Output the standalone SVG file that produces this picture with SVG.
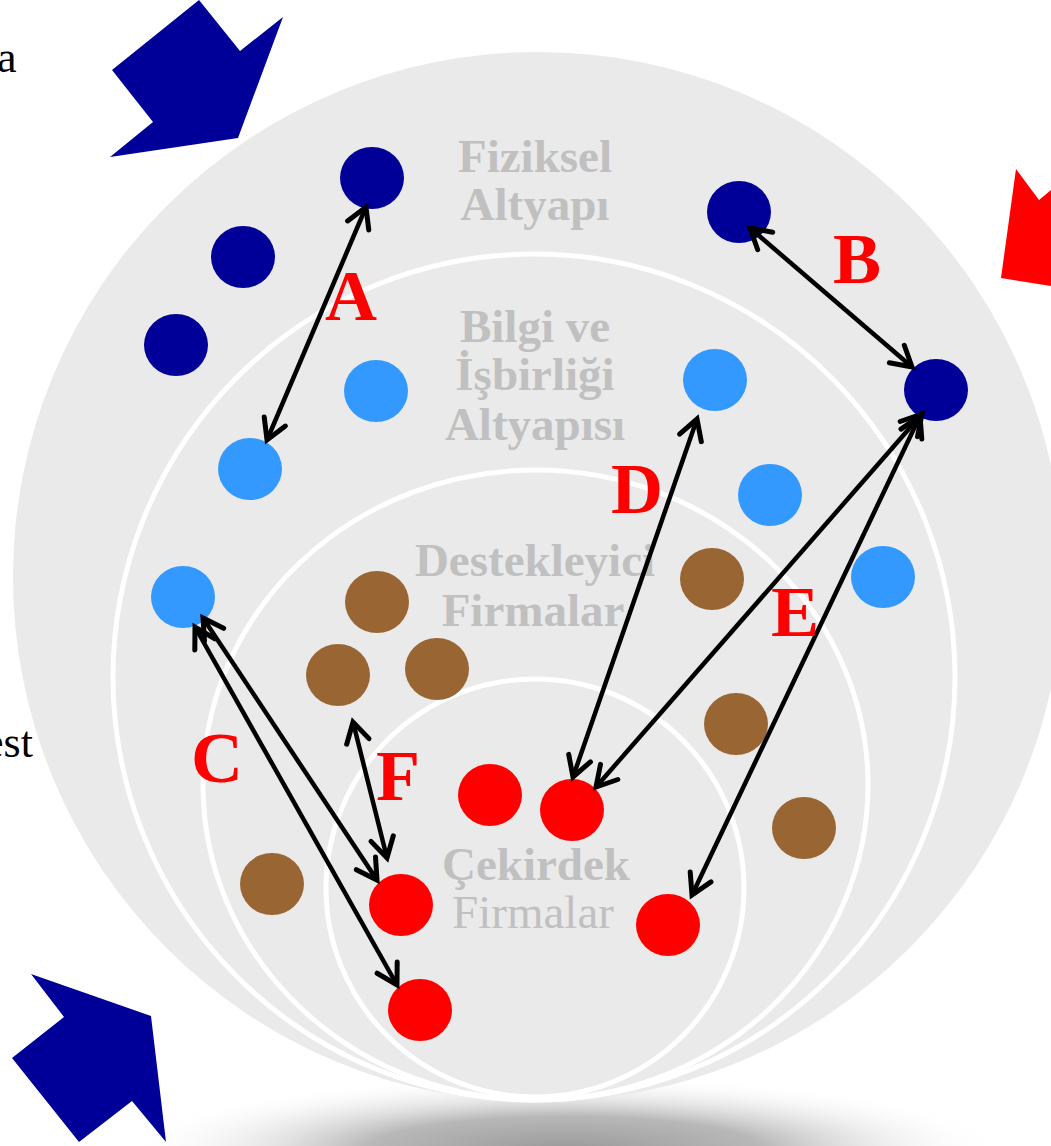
<svg xmlns="http://www.w3.org/2000/svg" width="1051" height="1146" viewBox="0 0 1051 1146">
<style>
.ring{fill:none;stroke:#fff;stroke-width:5}
.lbl{font-family:"Liberation Serif","Times New Roman",serif;font-size:47px;fill:#c0c0c0;text-anchor:middle}
.b{font-weight:bold}
.let{font-family:"Liberation Serif","Times New Roman",serif;font-size:72px;font-weight:bold;fill:#ff0000;text-anchor:middle}
.side{font-family:"Liberation Serif","Times New Roman",serif;font-size:44px;fill:#000}
.conn line{stroke:#000;stroke-width:4.5;marker-start:url(#ah);marker-end:url(#ah)}
.dk{fill:#000099}.lt{fill:#3399ff}.br{fill:#996633}.rd{fill:#ff0000}
</style>
<defs>
<radialGradient id="sh" cx="0.5" cy="0.5" r="0.5">
<stop offset="0" stop-color="#9a9a9a"/>
<stop offset="0.45" stop-color="#b8b8b8"/>
<stop offset="1" stop-color="#ffffff" stop-opacity="0"/>
</radialGradient>
<marker id="ah" viewBox="-24 -15 30 30" refX="0" refY="0" markerWidth="30" markerHeight="30" markerUnits="userSpaceOnUse" orient="auto-start-reverse">
<path d="M-20,-11.5 L0,0 L-20,11.5" fill="none" stroke="#000" stroke-width="5" stroke-linecap="round"/>
</marker>
</defs>
<rect width="1051" height="1146" fill="#fff"/>
<ellipse cx="565" cy="1150" rx="440" ry="75" fill="url(#sh)"/>
<g id="rings">
<circle cx="538" cy="577" r="525" fill="#eaeaea"/>
<ellipse class="ring" cx="534" cy="677" rx="421" ry="423"/>
<ellipse class="ring" cx="535.5" cy="785" rx="332.5" ry="315"/>
<ellipse class="ring" cx="535" cy="888" rx="209" ry="209"/>
</g>
<g id="ring-labels">
<text class="lbl b" x="535" y="172">Fiziksel</text>
<text class="lbl b" x="535" y="220">Altyapı</text>
<text class="lbl b" x="535" y="342">Bilgi ve</text>
<text class="lbl b" x="535" y="390">İşbirliği</text>
<text class="lbl b" x="535" y="440">Altyapısı</text>
<text class="lbl b" x="535" y="576">Destekleyici</text>
<text class="lbl b" x="533" y="626">Firmalar</text>
<text class="lbl b" x="536" y="880">Çekirdek</text>
<text class="lbl" x="533" y="928">Firmalar</text>
</g>
<g id="side-text">
<text class="side" x="-3" y="72">a</text>
<text class="side" x="-16" y="757">est</text>
</g>
<g id="big-arrows">
<polygon fill="#000099" points="199,0 240,51 283,17 238,138 110,157 153,122 112,70"/>
<polygon fill="#ff0000" points="1016,169 1039,200 1051,190 1051,286 1001,278"/>
<polygon fill="#000099" points="31,974 151,1016 166,1142 132,1101 79,1142 12,1058 64,1017"/>
</g>
<g id="nodes">
<ellipse id="n1" class="dk" cx="372" cy="178" rx="32" ry="31"/>
<ellipse id="n2" class="dk" cx="243" cy="257" rx="32" ry="31"/>
<ellipse id="n3" class="dk" cx="176" cy="345" rx="32" ry="31"/>
<ellipse id="n4" class="dk" cx="739" cy="212" rx="32" ry="31"/>
<ellipse id="n5" class="dk" cx="936" cy="390" rx="32" ry="31"/>
<ellipse id="n6" class="lt" cx="376" cy="391" rx="32" ry="31"/>
<ellipse id="n7" class="lt" cx="250" cy="469" rx="32" ry="31"/>
<ellipse id="n8" class="lt" cx="715" cy="380" rx="32" ry="31"/>
<ellipse id="n9" class="lt" cx="770" cy="495" rx="32" ry="31"/>
<ellipse id="n10" class="lt" cx="883" cy="577" rx="32" ry="31"/>
<ellipse id="n11" class="lt" cx="183" cy="597" rx="32" ry="31"/>
<ellipse id="n12" class="br" cx="377" cy="602" rx="32" ry="31"/>
<ellipse id="n13" class="br" cx="712" cy="579" rx="32" ry="31"/>
<ellipse id="n14" class="br" cx="338" cy="675" rx="32" ry="31"/>
<ellipse id="n15" class="br" cx="437" cy="669" rx="32" ry="31"/>
<ellipse id="n16" class="br" cx="736" cy="724" rx="32" ry="31"/>
<ellipse id="n17" class="br" cx="272" cy="884" rx="32" ry="31"/>
<ellipse id="n18" class="br" cx="804" cy="828" rx="32" ry="31"/>
<ellipse id="n19" class="rd" cx="490" cy="795" rx="32" ry="31"/>
<ellipse id="n20" class="rd" cx="572" cy="810" rx="32" ry="31"/>
<ellipse id="n21" class="rd" cx="401" cy="905" rx="32" ry="31"/>
<ellipse id="n22" class="rd" cx="668" cy="925" rx="32" ry="31"/>
<ellipse id="n23" class="rd" cx="420" cy="1010" rx="32" ry="31"/>
</g>
<g id="connectors" class="conn">
<line x1="366" y1="207" x2="267" y2="440"/>
<line x1="750" y1="228" x2="912" y2="367"/>
<line x1="195" y1="627" x2="397" y2="985"/>
<line x1="203" y1="618" x2="377" y2="880"/>
<line x1="697" y1="419" x2="573" y2="777"/>
<line x1="922" y1="414" x2="596" y2="787"/>
<line x1="920" y1="416" x2="692" y2="895"/>
<line x1="353" y1="722" x2="387" y2="858"/>
</g>
<g id="letters">
<text class="let" x="351" y="320">A</text>
<text class="let" x="857" y="283">B</text>
<text class="let" x="217" y="782">C</text>
<text class="let" x="637" y="513">D</text>
<text class="let" x="795" y="636">E</text>
<text class="let" x="398" y="800">F</text>
</g>
</svg>
